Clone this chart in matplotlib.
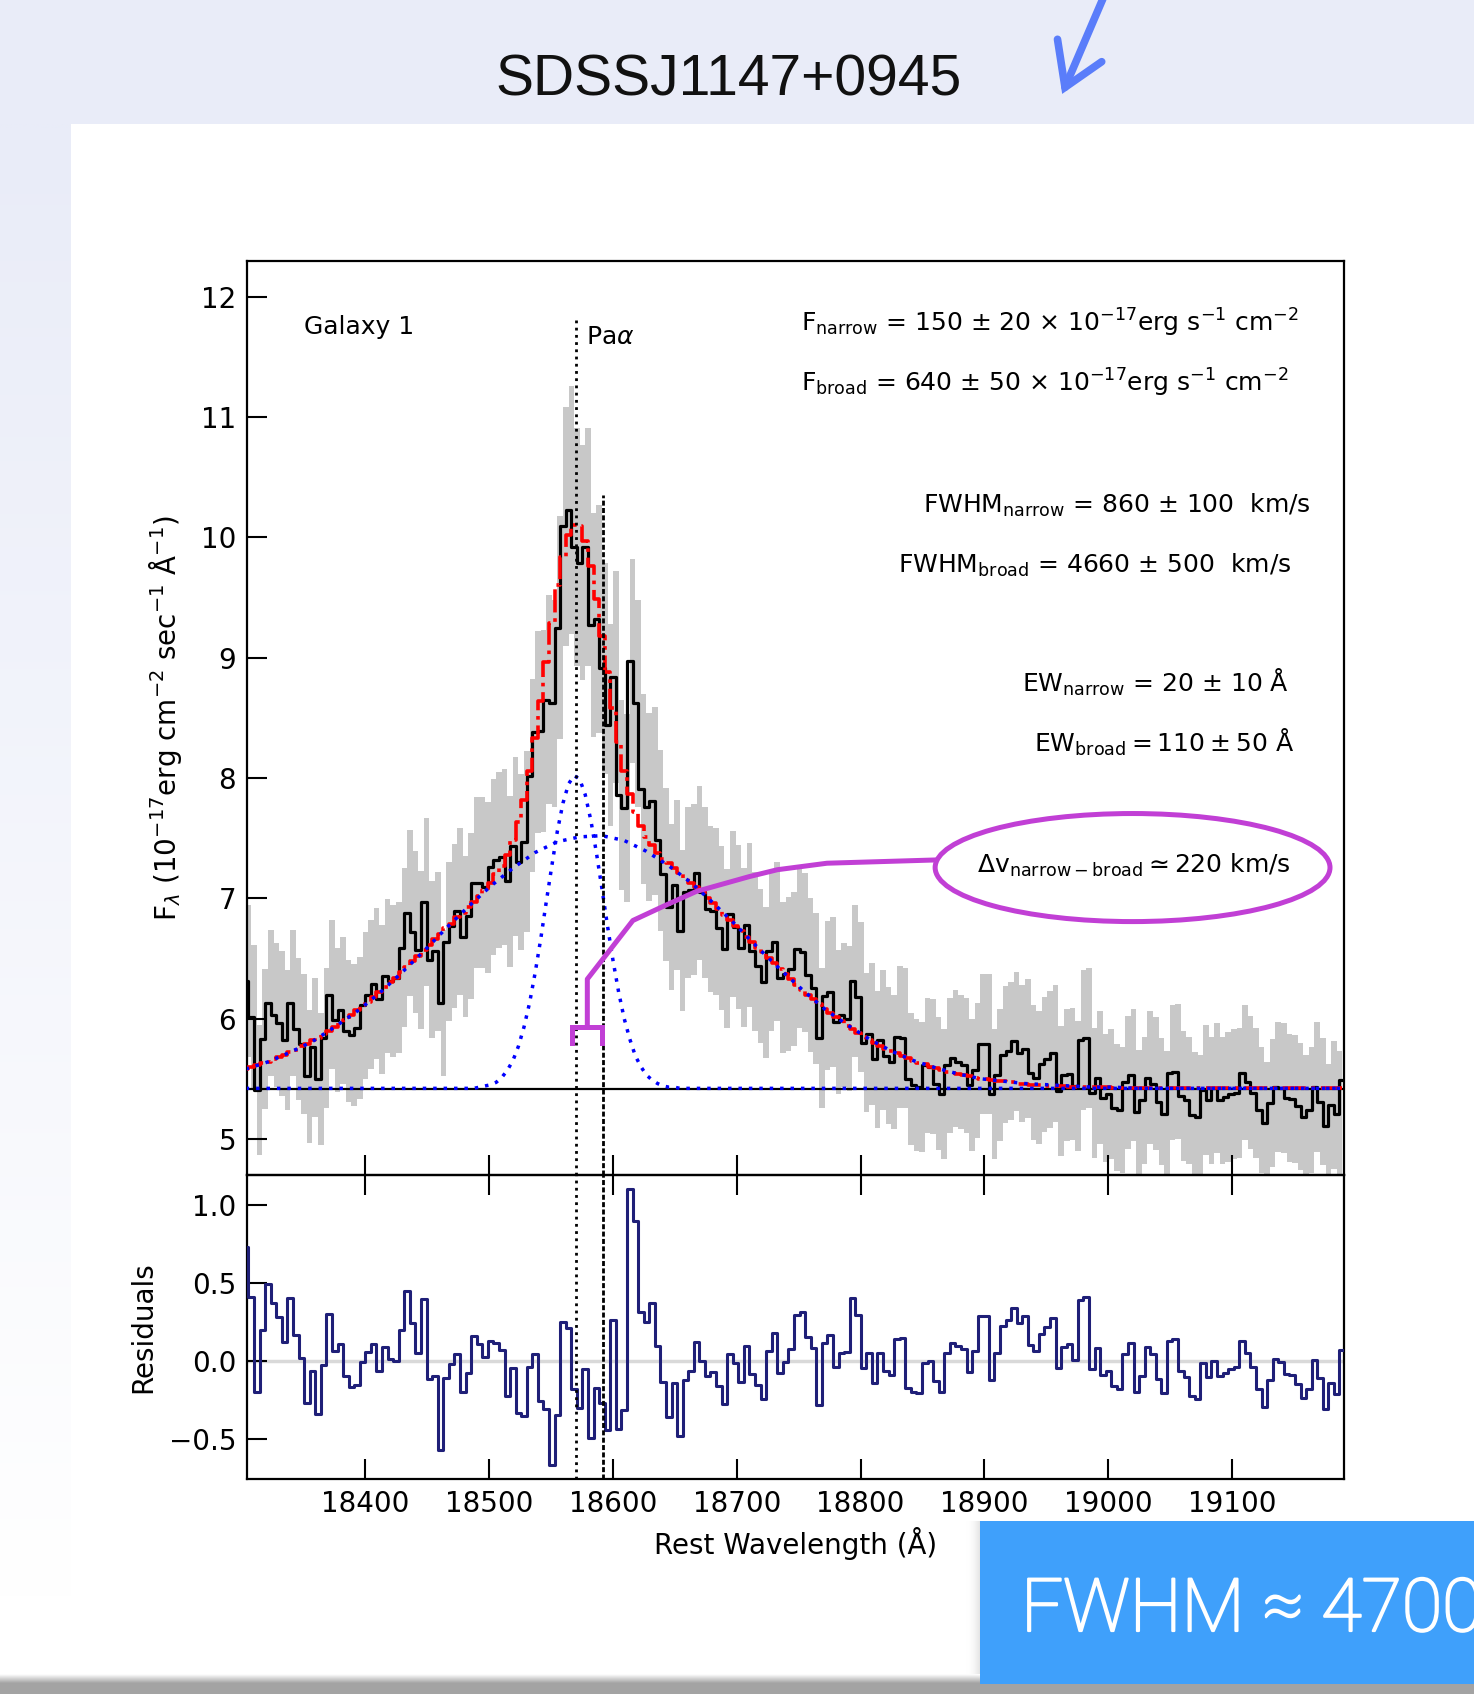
import numpy as np
import matplotlib.pyplot as plt
import matplotlib.patheffects as pe
from matplotlib.patches import Rectangle, Ellipse

# ---- spectrum of SDSSJ1147+0945, Pa alpha region ----
wave_start = 18303.3   # centre of first bin (A)
bin_width = 4.497      # A per bin

flux = [
    6.31, 6.01, 5.41, 5.83, 6.13, 6.03, 5.96, 5.82, 6.13, 5.91,
    5.79, 5.52, 5.76, 5.50, 5.84, 6.20, 5.99, 6.07, 5.90, 5.86,
    5.92, 6.11, 6.20, 6.29, 6.16, 6.35, 6.31, 6.34, 6.59, 6.88,
    6.72, 6.57, 6.97, 6.49, 6.56, 6.13, 6.64, 6.77, 6.89, 6.68,
    6.85, 7.13, 7.13, 7.09, 7.26, 7.32, 7.34, 7.14, 7.43, 7.30,
    7.47, 8.02, 8.38, 8.39, 8.65, 8.62, 9.25, 10.09, 10.23, 9.92,
    9.79, 9.92, 9.27, 9.32, 8.91, 8.44, 8.84, 7.86, 7.75, 8.97,
    8.62, 7.91, 7.76, 7.81, 7.48, 7.20, 6.93, 7.11, 6.73, 7.05,
    7.07, 7.21, 7.05, 6.91, 6.89, 6.75, 6.58, 6.87, 6.76, 6.59,
    6.78, 6.56, 6.44, 6.30, 6.56, 6.64, 6.34, 6.37, 6.41, 6.58,
    6.55, 6.36, 6.25, 5.84, 6.19, 6.22, 5.97, 6.03, 6.00, 6.31,
    6.18, 5.80, 5.87, 5.66, 5.82, 5.69, 5.64, 5.85, 5.84, 5.50,
    5.45, 5.43, 5.61, 5.60, 5.46, 5.37, 5.61, 5.67, 5.64, 5.61,
    5.45, 5.57, 5.79, 5.79, 5.37, 5.53, 5.70, 5.73, 5.81, 5.71,
    5.75, 5.55, 5.51, 5.62, 5.66, 5.71, 5.40, 5.53, 5.54, 5.44,
    5.82, 5.84, 5.38, 5.51, 5.34, 5.37, 5.26, 5.24, 5.47, 5.53,
    5.22, 5.32, 5.51, 5.46, 5.31, 5.21, 5.55, 5.56, 5.36, 5.32,
    5.20, 5.18, 5.41, 5.32, 5.42, 5.32, 5.35, 5.37, 5.38, 5.55,
    5.47, 5.38, 5.24, 5.13, 5.30, 5.43, 5.42, 5.34, 5.33, 5.27,
    5.18, 5.24, 5.43, 5.31, 5.11, 5.28, 5.21, 5.49,
]

flux_err = [
    0.63, 0.60, 0.54, 0.58, 0.61, 0.60, 0.60, 0.58, 0.61, 0.59,
    0.58, 0.55, 0.58, 0.55, 0.58, 0.62, 0.60, 0.61, 0.59, 0.59,
    0.59, 0.61, 0.62, 0.63, 0.62, 0.64, 0.63, 0.63, 0.66, 0.69,
    0.67, 0.66, 0.70, 0.65, 0.66, 0.61, 0.66, 0.68, 0.69, 0.67,
    0.69, 0.71, 0.71, 0.71, 0.73, 0.73, 0.73, 0.71, 0.74, 0.73,
    0.75, 0.80, 0.84, 0.84, 0.87, 0.86, 0.93, 0.99, 1.03, 0.99,
    0.98, 0.99, 0.93, 0.95, 0.88, 0.84, 0.88, 0.79, 0.78, 0.85,
    0.86, 0.79, 0.78, 0.78, 0.75, 0.72, 0.69, 0.71, 0.67, 0.71,
    0.71, 0.72, 0.71, 0.69, 0.69, 0.68, 0.66, 0.69, 0.68, 0.66,
    0.68, 0.66, 0.64, 0.63, 0.66, 0.66, 0.63, 0.64, 0.64, 0.66,
    0.66, 0.64, 0.63, 0.58, 0.62, 0.62, 0.60, 0.60, 0.60, 0.63,
    0.62, 0.58, 0.59, 0.57, 0.58, 0.57, 0.56, 0.59, 0.58, 0.55,
    0.55, 0.54, 0.56, 0.56, 0.55, 0.54, 0.56, 0.57, 0.56, 0.56,
    0.55, 0.56, 0.58, 0.58, 0.54, 0.55, 0.57, 0.57, 0.58, 0.57,
    0.58, 0.56, 0.55, 0.56, 0.57, 0.57, 0.54, 0.55, 0.55, 0.54,
    0.58, 0.58, 0.54, 0.55, 0.53, 0.54, 0.53, 0.52, 0.55, 0.55,
    0.52, 0.53, 0.55, 0.55, 0.53, 0.52, 0.56, 0.56, 0.54, 0.53,
    0.52, 0.52, 0.54, 0.53, 0.54, 0.53, 0.54, 0.54, 0.54, 0.56,
    0.55, 0.54, 0.52, 0.51, 0.53, 0.54, 0.54, 0.53, 0.53, 0.53,
    0.52, 0.52, 0.54, 0.53, 0.51, 0.53, 0.52, 0.55,
]

# total fit (continuum + narrow + broad)
model = [
    5.58, 5.60, 5.61, 5.63, 5.64, 5.66, 5.68, 5.70, 5.72, 5.74,
    5.77, 5.79, 5.82, 5.84, 5.87, 5.90, 5.93, 5.96, 5.99, 6.03,
    6.07, 6.11, 6.14, 6.18, 6.22, 6.26, 6.30, 6.34, 6.39, 6.43,
    6.48, 6.52, 6.57, 6.61, 6.66, 6.70, 6.75, 6.79, 6.84, 6.88,
    6.93, 6.97, 7.02, 7.07, 7.13, 7.20, 7.27, 7.36, 7.48, 7.63,
    7.82, 8.06, 8.33, 8.64, 8.96, 9.29, 9.60, 9.84, 10.02, 10.10,
    10.09, 9.97, 9.76, 9.49, 9.18, 8.88, 8.58, 8.30, 8.06, 7.87,
    7.72, 7.60, 7.51, 7.44, 7.38, 7.33, 7.29, 7.25, 7.21, 7.17,
    7.13, 7.09, 7.05, 7.00, 6.96, 6.91, 6.86, 6.82, 6.77, 6.73,
    6.68, 6.64, 6.59, 6.55, 6.50, 6.46, 6.41, 6.37, 6.33, 6.28,
    6.24, 6.20, 6.16, 6.12, 6.08, 6.05, 6.01, 5.98, 5.94, 5.91,
    5.88, 5.85, 5.82, 5.80, 5.77, 5.75, 5.73, 5.71, 5.69, 5.67,
    5.65, 5.63, 5.62, 5.60, 5.59, 5.57, 5.56, 5.55, 5.54, 5.53,
    5.52, 5.51, 5.50, 5.50, 5.49, 5.48, 5.48, 5.47, 5.47, 5.46,
    5.46, 5.45, 5.45, 5.45, 5.44, 5.44, 5.44, 5.44, 5.43, 5.43,
    5.43, 5.43, 5.43, 5.43, 5.43, 5.43, 5.42, 5.42, 5.42, 5.42,
] + [5.42] * 38

# narrow component on top of the continuum
narrow_comp = [5.42] * 42 + [
    5.43, 5.44, 5.45, 5.47, 5.51, 5.57, 5.65, 5.77, 5.93, 6.13,
    6.38, 6.66, 6.97, 7.27, 7.56, 7.79, 7.95, 8.02, 7.99, 7.86,
    7.65, 7.38, 7.08, 6.77, 6.48, 6.22, 6.00, 5.83, 5.69, 5.60,
    5.53, 5.49, 5.46, 5.44, 5.43, 5.43,
] + [5.42] * 120

# broad component, sampled every 4th bin (+ last bin)
broad_idx = list(range(0, 197, 4)) + [197]
broad_comp = [
    5.58, 5.64, 5.72, 5.81, 5.93, 6.06, 6.21, 6.38, 6.56, 6.75,
    6.93, 7.10, 7.25, 7.38, 7.47, 7.51, 7.52, 7.48, 7.39, 7.27,
    7.13, 6.96, 6.78, 6.59, 6.41, 6.24, 6.08, 5.95, 5.83, 5.73,
    5.65, 5.59, 5.54, 5.50, 5.48, 5.46, 5.45, 5.44, 5.43, 5.43,
    5.42, 5.42, 5.42, 5.42, 5.42, 5.42, 5.42, 5.42, 5.42, 5.42,
    5.42,
]

resid = [
    0.733, 0.412, -0.197, 0.199, 0.494, 0.370, 0.284, 0.124, 0.406, 0.167,
    0.017, -0.267, -0.064, -0.342, -0.026, 0.299, 0.064, 0.111, -0.094, -0.169,
    -0.154, -0.004, 0.056, 0.107, -0.064, 0.092, 0.011, 0.000, 0.199, 0.451,
    0.241, 0.051, 0.395, -0.118, -0.098, -0.571, -0.109, -0.019, 0.045, -0.197,
    -0.079, 0.160, 0.109, 0.024, 0.128, 0.118, 0.071, -0.222, -0.047, -0.331,
    -0.353, -0.041, 0.045, -0.254, -0.308, -0.669, -0.346, 0.252, 0.209, -0.182,
    -0.299, -0.051, -0.491, -0.171, -0.271, -0.442, 0.263, -0.438, -0.314, 1.103,
    0.900, 0.312, 0.248, 0.370, 0.098, -0.132, -0.361, -0.139, -0.479, -0.122,
    -0.064, 0.120, 0.000, -0.094, -0.068, -0.160, -0.278, 0.045, -0.015, -0.137,
    0.096, -0.083, -0.154, -0.246, 0.064, 0.182, -0.075, -0.004, 0.075, 0.295,
    0.312, 0.156, 0.085, -0.282, 0.113, 0.167, -0.041, 0.053, 0.060, 0.402,
    0.295, -0.047, 0.049, -0.143, 0.053, -0.062, -0.090, 0.141, 0.145, -0.171,
    -0.197, -0.203, -0.015, 0.000, -0.126, -0.197, 0.053, 0.118, 0.096, 0.077,
    -0.073, 0.064, 0.288, 0.291, -0.122, 0.053, 0.224, 0.263, 0.342, 0.246,
    0.288, 0.103, 0.064, 0.171, 0.220, 0.274, -0.043, 0.092, 0.107, 0.006,
    0.391, 0.408, -0.051, 0.085, -0.090, -0.064, -0.160, -0.179, 0.045, 0.113,
    -0.197, -0.096, 0.092, 0.043, -0.115, -0.207, 0.130, 0.141, -0.064, -0.100,
    -0.222, -0.244, -0.011, -0.105, 0.000, -0.096, -0.075, -0.053, -0.036, 0.130,
    0.049, -0.036, -0.179, -0.293, -0.122, 0.011, -0.004, -0.085, -0.090, -0.150,
    -0.239, -0.179, 0.006, -0.111, -0.310, -0.143, -0.214, 0.071,
]

continuum = 5.416
lam_narrow = 18569.8
lam_broad = 18591.9
xticks = [18400, 18500, 18600, 18700, 18800, 18900, 19000, 19100]

# purple "delta v" marker path (wavelength, flux)
dv_bracket_x = [18567.2, 18567.2, 18591.0, 18591.0]
dv_bracket_y = [5.796, 5.934, 5.934, 5.796]
dv_line_x = [18579.3, 18579.3, 18616.1, 18640.3, 18667.2, 18710.2, 18732.8, 18772.9, 18860.1]
dv_line_y = [5.934, 6.328, 6.815, 6.931, 7.056, 7.180, 7.237, 7.291, 7.318]

wave = wave_start + bin_width * np.arange(len(flux))
flux = np.array(flux)
flux_err = np.array(flux_err)

purple = '#c13fd5'

fig = plt.figure(figsize=(14.74, 16.94), dpi=100)

# ---- slide background ----
bg = fig.add_axes([0, 0, 1, 1], zorder=0)
lav = np.array([233, 236, 248]) / 255.0
bg.add_patch(Rectangle((0, 0), 1474, 124, color=lav, lw=0))
t = np.linspace(0, 1, 200)[:, None]
strip = lav[None, None, :] * (1 - t[..., None]) + np.ones(3)[None, None, :] * t[..., None]
bg.imshow(strip, extent=(0, 71, 1600, 124), aspect='auto', interpolation='bilinear')
# blue box with soft shadow
t3 = np.linspace(0, 1, 30)[None, :]
bshade = np.ones(3)[None, None, :] * (1 - 0.12 * t3[..., None] ** 2)
bg.imshow(bshade, extent=(966, 981, 1676, 1521), aspect='auto', interpolation='bilinear')
t2 = np.linspace(0, 1, 40)[:, None]
shade = np.ones(3)[None, None, :] * (1 - 0.36 * np.clip(t2 * 2.2, 0, 1))[..., None]
bg.imshow(shade, extent=(0, 1474, 1694, 1674), aspect='auto', interpolation='bilinear')
bg.add_patch(Rectangle((980, 1521), 494, 163, color='#3fa0fb', lw=0))
bg.text(1021, 1631, 'FWHM \u2248 4700', color='white', fontsize=53,
        family=['Roboto', 'DejaVu Sans'], fontweight='light', ha='left', va='baseline',
        path_effects=[pe.withStroke(linewidth=1.6, foreground='white')])
bg.text(729, 95, 'SDSSJ1147+0945', fontsize=41, color='#111111',
        family=['Liberation Sans Narrow', 'Liberation Sans', 'DejaVu Sans'],
        ha='center', va='baseline')
arrow_col = '#5a7dfa'
bg.plot([1104.5, 1065], [-5, 87.3], color=arrow_col, lw=5.5, solid_capstyle='round')
bg.plot([1057.5, 1065, 1101.7], [39.3, 87.3, 61.7], color=arrow_col, lw=5.5,
        solid_capstyle='round', solid_joinstyle='miter')
bg.set_xlim(0, 1474)
bg.set_ylim(1694, 0)
bg.axis('off')

# ---- main spectrum panel ----
ax1 = fig.add_axes([0.16777, 0.30638, 0.74403, 0.53984], zorder=2)
ax2 = fig.add_axes([0.16777, 0.12674, 0.74403, 0.17964], zorder=2, sharex=ax1)

ax1.fill_between(wave, flux - flux_err, flux + flux_err, step='post',
                 color='#c8c8c8', lw=0, zorder=1)
ax1.axhline(continuum, color='k', lw=1.6, zorder=2)
ax1.plot(wave, flux, drawstyle='steps-mid', color='k', lw=2.3, zorder=3)
ax1.plot(wave, model, drawstyle='steps-mid', color='red', lw=2.6, ls='-.', zorder=4)
ax1.plot(wave, narrow_comp, color='blue', lw=2.5, ls=(0, (1, 2)), zorder=5)
ax1.plot(wave[broad_idx], broad_comp, color='blue', lw=2.5, ls=(0, (1, 2)), zorder=5)
ax1.plot([lam_narrow, lam_narrow], [4.7, 11.83], color='k', lw=2, ls=(0, (1, 1.6)), zorder=6)
ax1.plot([lam_broad, lam_broad], [4.7, 10.35], color='k', lw=2, ls=(0, (1.8, 0.85)), zorder=6)

ax1.plot(dv_bracket_x, dv_bracket_y, color=purple, lw=3.6, zorder=7,
         solid_joinstyle='miter')
ax1.plot(dv_line_x, dv_line_y, color=purple, lw=3.6, zorder=7, solid_joinstyle='round')
ax1.add_patch(Ellipse((19019.8, 7.255), 319, 0.898, fill=False, ec=purple, lw=3.6, zorder=7))

fs = 18
lfs = 20
ax1.text(18350.4, 11.69, 'Galaxy 1', fontsize=fs, va='baseline')
ax1.text(18577.9, 11.61, r'Pa$\alpha$', fontsize=fs, va='baseline')
ax1.text(18752.0, 11.712,
         r'F$_{\rm narrow}$ = 150 $\pm$ 20 $\times$ 10$^{-17}$erg s$^{-1}$ cm$^{-2}$',
         fontsize=fs, va='baseline')
ax1.text(18752.0, 11.213,
         r'F$_{\rm broad}$ = 640 $\pm$ 50 $\times$ 10$^{-17}$erg s$^{-1}$ cm$^{-2}$',
         fontsize=fs, va='baseline')
ax1.text(18850.5, 10.202, r'FWHM$_{\rm narrow}$ = 860 $\pm$ 100  km/s', fontsize=fs, va='baseline')
ax1.text(18830.2, 9.703, r'FWHM$_{\rm broad}$ = 4660 $\pm$ 500  km/s', fontsize=fs, va='baseline')
ax1.text(18930.2, 8.718, r'EW$_{\rm narrow}$ = 20 $\pm$ 10 Å', fontsize=fs, va='baseline')
ax1.text(18940.1, 8.219, r'$\rm EW_{broad} = 110 \pm 50\ \AA$', fontsize=fs, va='baseline')
ax1.text(18894.4, 7.209, r'$\Delta{\rm v}_{\rm narrow-broad} \simeq 220$ km/s',
         fontsize=fs, va='baseline')

ax1.set_xlim(18304.6, 19190.6)
ax1.set_ylim(4.7, 12.3)
ax1.set_yticks(range(5, 13))
ax1.set_xticks(xticks)
ax1.set_ylabel(r'F$_\lambda$ (10$^{-17}$erg cm$^{-2}$ sec$^{-1}$ Å$^{-1}$)', fontsize=lfs, labelpad=12)
ax1.tick_params(direction='in', length=14.4, width=1.5, labelsize=lfs, pad=8,
                bottom=True, top=False, left=True, right=False, labelbottom=False)

# ---- residual panel ----
ax2.axhline(0, color='#d9d9d9', lw=2.5, zorder=1)
ax2.plot(wave, resid, drawstyle='steps-mid', color='#1f1f78', lw=2.2, zorder=3)
ax2.axvline(lam_narrow, color='k', lw=2, ls=(0, (1, 1.6)), zorder=4)
ax2.axvline(lam_broad, color='k', lw=2, ls=(0, (1.8, 0.85)), zorder=4)
ax2.set_ylim(-0.758, 1.192)
ax2.set_yticks([-0.5, 0.0, 0.5, 1.0])
ax2.set_ylabel('Residuals', fontsize=lfs, labelpad=8)
ax2.set_xlabel('Rest Wavelength (Å)', fontsize=lfs, labelpad=6)
ax2.tick_params(direction='in', length=14.4, width=1.5, labelsize=lfs, pad=8,
                bottom=True, top=True, left=True, right=False)

for a in (ax1, ax2):
    for s in a.spines.values():
        s.set_linewidth(1.6)
    a.set_facecolor('none')

fig.savefig('out.png', dpi=100)
